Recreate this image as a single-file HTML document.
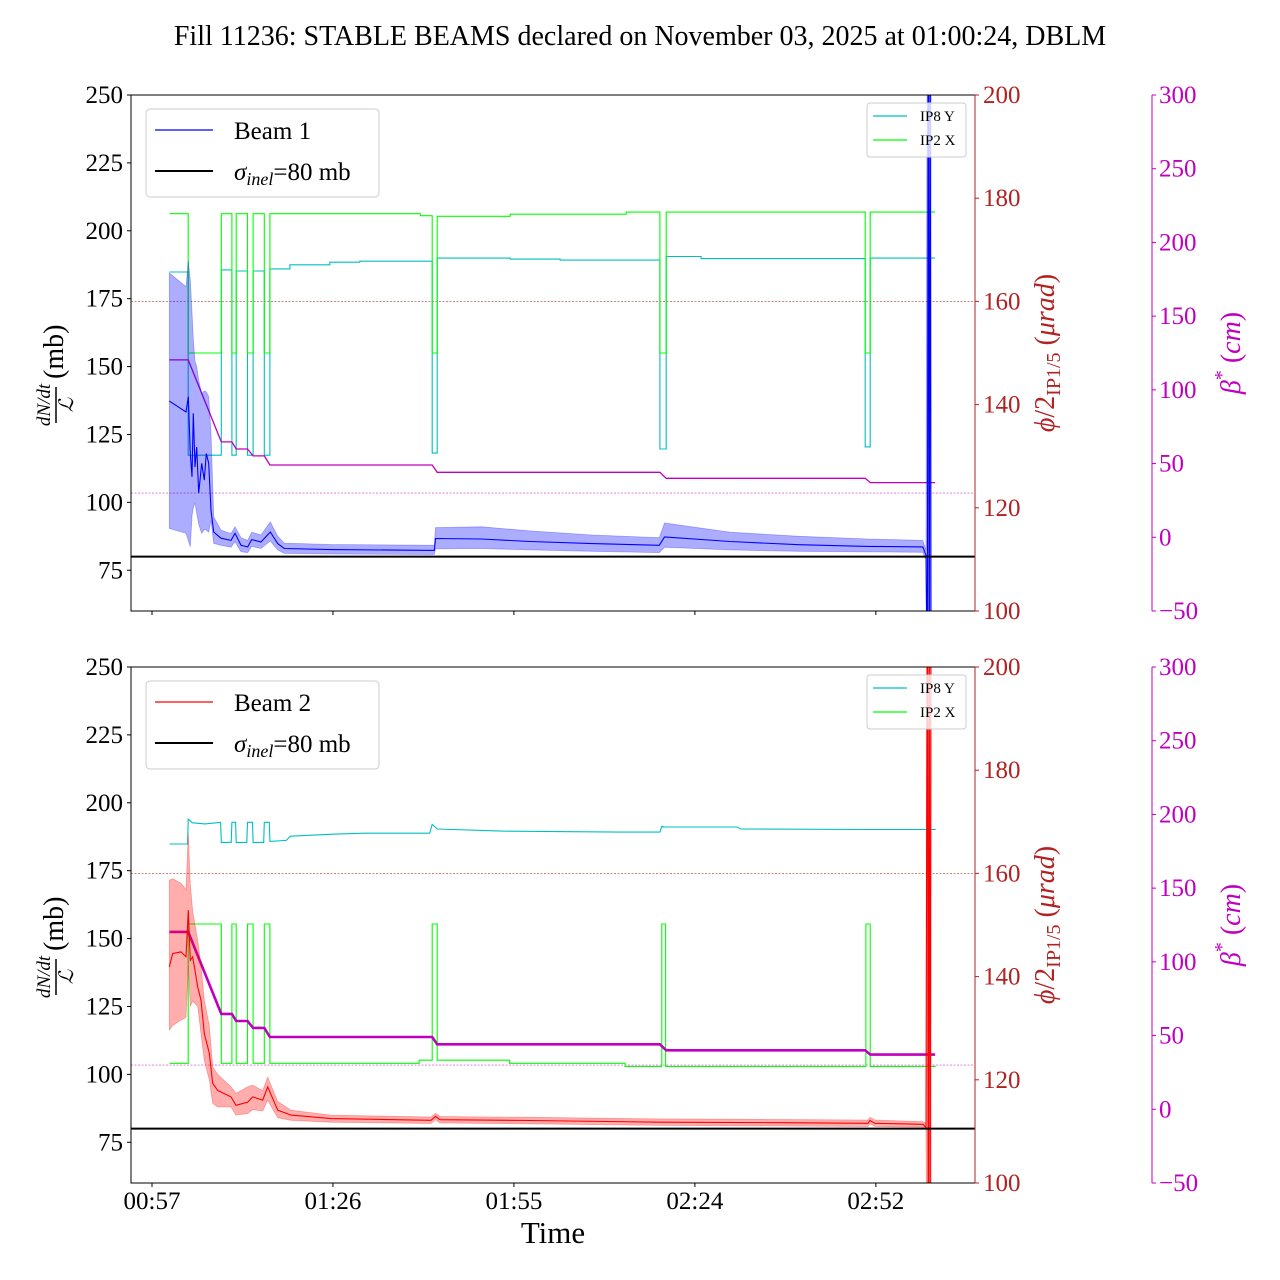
<!DOCTYPE html>
<html><head><meta charset="utf-8">
<style>
html,body{margin:0;padding:0;background:#fff;width:1280px;height:1280px;overflow:hidden;}
svg{display:block;font-family:"Liberation Serif","DejaVu Serif",serif;}
svg text{font-family:"Liberation Serif","DejaVu Serif",serif;}
</style></head>
<body>
<svg id="chart" width="1280" height="1280" viewBox="0 0 1280 1280" xmlns="http://www.w3.org/2000/svg">
<rect x="0" y="0" width="1280" height="1280" fill="#fff"/>
<text x="640" y="45" font-size="28" text-anchor="middle">Fill 11236: STABLE BEAMS declared on November 03, 2025 at 01:00:24, DBLM</text>
<defs>
<clipPath id="clipTop"><rect x="131" y="95" width="844" height="516"/></clipPath>
<clipPath id="clipBot"><rect x="131" y="667" width="844" height="516"/></clipPath>
</defs>
<g id="top"></g>
<g id="bot"></g>
<text x="553" y="1243" font-size="31" text-anchor="middle">Time</text>
</svg>
<script>
// ---- data (time in minutes after 00:57) ----
const xTickMin = [0, 29, 58, 87, 116];
const xTickLabels = ["00:57", "01:26", "01:55", "02:24", "02:52"];
const leftTicks = [75, 100, 125, 150, 175, 200, 225, 250];
const redTicks = [100, 120, 140, 160, 180, 200];
const magTicks = [-50, 0, 50, 100, 150, 200, 250, 300];

// Beam 1 loss (mb)
const b1T = [2.77,5.45,5.82,6.14,6.41,6.62,6.89,7.16,7.48,7.96,8.38,8.70,9.09,9.46,9.89,11.06,12.66,13.30,14.26,15.34,15.98,17.47,18.96,20.14,21.20,28.69,45.24,45.43,52.77,60.58,70.51,81.30,82.13,92.63,103.65,114.70,123.53,124.04,124.25,124.4,124.55,124.7,124.85];
const b1Mean = [137.3,133.3,138.9,118,109.4,132.8,113,120.4,103.4,114.4,108.2,118,114.4,97,89.1,86.8,86,88.6,84.2,83.6,86.3,85.4,89.1,84.8,83,82.6,82.3,86.7,86.5,85.6,84.8,84.2,87.3,85.6,84.4,83.8,83.6,80.6,30,300,10,300,20];
const b1Hi = [184.5,179.4,189,181.8,170,160,152,150,145,140,141,140.7,138.9,125.4,94.6,89.8,88.5,91,87,86,89,88,92.8,87.5,85,84.5,84.2,90.7,91,89.5,88,87,92.4,89,87.5,86.5,86,82.5,300,300,300,300,300];
const b1Lo = [90.4,88.6,86,83.6,95,98,100,96,92,88.6,90,89.8,89,93.4,84.9,84.2,83.5,85.5,81.8,81.5,83.8,83,85.8,82.5,81.2,81,80.8,82.9,83,82.5,82,81.5,83.5,82.5,82,81.8,81.6,79,0,0,0,0,0];

// Beam 2 loss (mb)
const b2T = [2.77,3.32,4.65,5.45,5.82,6.14,6.52,7.32,7.85,8.38,9.18,9.73,10.53,12.66,13.46,15.34,16.14,17.74,18.54,20.14,22.28,28.69,44.71,45.43,46.15,60.58,81.41,100.64,114.74,115.06,115.87,123.53,124.04,124.25,124.4,124.55,124.7,124.85];
const b2Mean = [139.6,144.5,145.1,143.3,160.5,142,143.3,132.2,127.3,115.1,107.8,96.7,94.1,91.7,88.6,89.8,91.7,90.5,95.4,86.8,85,83.7,83.1,84.5,83.3,83,82.4,82.2,82.0,83,82,81.6,80.5,300,20,300,10,300];
const b2Hi = [171.5,172,170.4,168,188.8,170,160,149.4,140,127.3,118,102.7,100,95.4,93,95.4,96,94,99,90,86.8,85,84.3,85.7,84.5,84.2,83.6,83.4,83.2,84.2,83.2,82.6,82,300,300,300,300,300];
const b2Lo = [116.3,118,120,121,140,125,127,125,115,105,98,89.3,88,88,85,85.6,87,86.5,90.5,84,83.1,82.4,81.9,83.3,82.1,81.8,81.2,81,80.8,81.8,80.8,80.6,79.5,0,0,0,0,0];

// Crossing angles (urad)
const ip8TopT = [2.8,5.8,11.1,12.8,13.5,15.3,16.2,18.0,18.9,22.1,28.5,33.3,44.9,45.7,57.4,65.4,81.4,82.4,88,114.3,115.1,125.5];
const ip8TopV = [165.7,130.2,166.1,130.2,165.9,130.2,165.9,130.2,166.3,167.1,167.6,167.8,130.6,168.4,168.2,168.0,131.4,168.7,168.3,131.8,168.4,168.4];
const ip2TopT = [2.8,5.8,11.1,12.8,13.5,15.3,16.2,18.0,18.9,43.0,44.9,45.7,57.4,76.0,81.4,82.4,114.3,115.1,125.5];
const ip2TopV = [177,150,177,150,177,150,177,150,177,176.6,150,176.5,176.9,177.3,150,177.3,150,177.3,177.3];
const ip8BotT = [2.8,5.7,5.8,6.5,8.5,11.0,11.1,12.7,12.8,13.4,13.5,15.2,15.3,16.1,16.2,17.9,18.0,18.8,18.9,21.5,22.2,29.0,34.0,44.5,44.9,45.7,56,75,81.4,81.7,82.1,93.8,94.3,114.3,125.6];
const ip8BotV = [165.7,165.7,170.5,169.8,169.6,169.9,166,166,169.9,169.9,166,166,169.9,169.9,166,166,169.9,169.9,166.2,166.4,167.2,167.6,167.8,167.8,169.5,168.6,168.2,168.0,168.0,169.1,169.0,169.0,168.6,168.5,168.5];
const ip2BotT = [2.8,5.8,11.1,12.8,13.5,15.3,16.2,18.0,18.9,42.8,44.9,45.7,57.3,75.8,81.7,82.3,114.4,115.1,125.6];
const ip2BotV = [123.2,150.2,123.2,150.2,123.2,150.2,123.2,150.2,123.2,123.8,150.2,123.8,123.2,122.6,150.2,122.6,150.2,122.6,122.6];

// beta* (cm)
const betaT = [2.8,5.8,11.1,12.8,13.5,15.3,16.2,18.0,18.9,44.9,45.7,81.4,82.4,114.3,115.1,125.5];
const betaV = [120.3,120.3,64.7,64.7,59.9,59.9,55.2,55.2,49,49,44.1,44.1,40,40,37.1,37.1];

const sigmaInel = 80;
const refAngle = 160;
const refBeta = 30;

// ---- scales ----
const X0 = 131, X1 = 975, H = 516;
function xS(t){ return 152 + t * 6.24; }
function yL(v, top){ return top + (250 - v) / 190 * H; }
function yR(v, top){ return top + (200 - v) / 100 * H; }
function yM(v, top){ return top + (300 - v) / 350 * H; }

const NS = "http://www.w3.org/2000/svg";
function mk(tag, attrs, parent){
  const e = document.createElementNS(NS, tag);
  for (const k in attrs) e.setAttribute(k, attrs[k]);
  parent.appendChild(e);
  return e;
}
function linePts(T, V, yf, top){
  return T.map((t,i)=>xS(t).toFixed(1)+","+yf(V[i],top).toFixed(1)).join(" ");
}
function stepPts(T, V, yf, top){
  const p = [];
  for (let i=0;i<T.length;i++){
    if (i>0) p.push(xS(T[i]).toFixed(1)+","+yf(V[i-1],top).toFixed(1));
    p.push(xS(T[i]).toFixed(1)+","+yf(V[i],top).toFixed(1));
  }
  return p.join(" ");
}
function bandPts(T, Hi, Lo, top){
  const a = T.map((t,i)=>xS(t).toFixed(1)+","+yL(Hi[i],top).toFixed(1));
  const b = T.map((t,i)=>xS(t).toFixed(1)+","+yL(Lo[i],top).toFixed(1)).reverse();
  return a.concat(b).join(" ");
}

function panel(g, top, clipId, beamName, bT, bM, bH, bL, col, bandCol, ip8T, ip8V, ip8Step, ip2T, ip2V, ip2Step, betaW, showX){
  const cg = mk("g", {"clip-path":"url(#"+clipId+")"}, g);
  
  
  const r1 = mk("line", {x1:X0,x2:X1,y1:yR(refAngle,top),y2:yR(refAngle,top),stroke:"#a33",'stroke-width':0.8,'stroke-dasharray':"2,1.5",opacity:0.8}, cg);
  
  
  const r2 = mk("line", {x1:X0,x2:X1,y1:yM(refBeta,top),y2:yM(refBeta,top),stroke:"#d050d0",'stroke-width':0.8,'stroke-dasharray':"2,1.5",opacity:0.8}, cg);
  
  
  const c = mk("polyline", {points: ip8Step ? stepPts(ip8T, ip8V, yR, top) : linePts(ip8T, ip8V, yR, top), fill:"none", stroke:"#00bfbf", 'stroke-width':1.1}, cg);
  
  
  const gr = mk("polyline", {points: ip2Step ? stepPts(ip2T, ip2V, yR, top) : linePts(ip2T, ip2V, yR, top), fill:"none", stroke:"#00ff00", 'stroke-width':1.1}, cg);
  
  
  const m = mk("polyline", {points: linePts(betaT, betaV, yM, top), fill:"none", stroke:"#bf00bf", 'stroke-width':betaW}, cg);
  
  
  const band = mk("polygon", {points: bandPts(bT, bH, bL, top), fill:bandCol, 'fill-opacity':0.32, stroke:bandCol, 'stroke-opacity':0.3, 'stroke-width':0.8}, cg);
  
  
  const ml = mk("polyline", {points: linePts(bT, bM, yL, top), fill:"none", stroke:col, 'stroke-width':1.1}, cg);
  
  
  const sl = mk("line", {x1:X0,x2:X1,y1:yL(sigmaInel,top),y2:yL(sigmaInel,top),stroke:"#000",'stroke-width':2}, cg);
  
  

  const fr = mk("rect", {x:X0,y:top,width:X1-X0,height:H,fill:"none",stroke:"#000",'stroke-width':1}, g);
  
  
  const rs = mk("line", {x1:X1,x2:X1,y1:top,y2:top+H,stroke:"#b22222",'stroke-width':1}, g);
  
  
  leftTicks.forEach(v=>{
    const y = yL(v, top);
    mk("line",{x1:X0-4,x2:X0,y1:y,y2:y,stroke:"#000"}, g);
    const t = mk("text",{x:X0-8,y:y+8,'font-size':25,'text-anchor':"end"}, g);
    t.textContent = v;
    
    
  });
  redTicks.forEach(v=>{
    const y = yR(v, top);
    mk("line",{x1:X1,x2:X1+4,y1:y,y2:y,stroke:"#b22222"}, g);
    const t = mk("text",{x:X1+8,y:y+8,'font-size':25,fill:"#b22222"}, g);
    t.textContent = v;
    
    
  });
  const ms = mk("line",{x1:1152,x2:1152,y1:top,y2:top+H,stroke:"#bf00bf",'stroke-width':1}, g);
  
  
  magTicks.forEach(v=>{
    const y = yM(v, top);
    mk("line",{x1:1152,x2:1156,y1:y,y2:y,stroke:"#bf00bf"}, g);
    const t = mk("text",{x:1159,y:y+8,'font-size':25,fill:"#bf00bf"}, g);
    t.textContent = v < 0 ? "\u2212" + Math.abs(v) : v;
    
    
  });
  xTickMin.forEach((m,i)=>{
    const x = xS(m);
    mk("line",{x1:x,x2:x,y1:top+H,y2:top+H+4,stroke:"#000"}, g);
    if (showX){
      const t = mk("text",{x:x,y:top+H+26,'font-size':25,'text-anchor':"middle"}, g);
      t.textContent = xTickLabels[i];
      
      
    }
  });
  const cy = top + 258;
  const yl = mk("g",{transform:"translate(56,"+cy+") rotate(-90)"}, g);
  
  
  const f1 = mk("text",{x:-52,y:-6,'font-size':19,'font-style':"italic",'text-anchor':"middle"}, yl); f1.textContent = "dN/dt";
  mk("line",{x1:-70,x2:-34,y1:0,y2:0,stroke:"#000",'stroke-width':1.5}, yl);
  const f2 = mk("text",{x:-52,y:17,'font-size':20,'font-style':"italic",'text-anchor':"middle"}, yl); f2.textContent = "\u2112";
  const f3 = mk("text",{x:-26,y:7,'font-size':28}, yl); f3.textContent = "(mb)";
  const rl = mk("text",{transform:"translate(1054,"+(top+258)+") rotate(-90)",'font-size':28,fill:"#b22222",'text-anchor':"middle"}, g);
  
  
  rl.innerHTML = '<tspan font-style="italic">\u03d5</tspan>/2<tspan font-size="20" dy="6">IP1/5</tspan><tspan dy="-6"> (</tspan><tspan font-style="italic">\u03bcrad</tspan>)';
  const bl = mk("text",{transform:"translate(1240,"+(top+258)+") rotate(-90)",'font-size':28,fill:"#bf00bf",'text-anchor':"middle"}, g);
  
  
  bl.innerHTML = '<tspan font-style="italic">\u03b2</tspan><tspan font-size="20" dy="-12">*</tspan><tspan dy="12"> (</tspan><tspan font-style="italic">cm</tspan>)';
  const lg = mk("g",{}, g);
  
  
  mk("rect",{x:146,y:top+14,width:233,height:88,rx:4,fill:"#fff",'fill-opacity':0.8,stroke:"#ccc"}, lg);
  mk("line",{x1:155,x2:213,y1:top+35,y2:top+35,stroke:col,'stroke-width':1.2}, lg);
  const lt1 = mk("text",{x:234,y:top+44,'font-size':25}, lg); lt1.textContent = beamName === "beam-1" ? "Beam 1" : "Beam 2";
  
  
  mk("line",{x1:155,x2:213,y1:top+76,y2:top+76,stroke:"#000",'stroke-width':2}, lg);
  const lt2 = mk("text",{x:234,y:top+85,'font-size':25}, lg);
  lt2.innerHTML = '<tspan font-style="italic">\u03c3</tspan><tspan font-style="italic" font-size="18" dy="5">inel</tspan><tspan dy="-5">=80 mb</tspan>';
  
  
  const sg = mk("g",{}, g);
  
  
  mk("rect",{x:867,y:top+8,width:99,height:54,rx:3,fill:"#fff",'fill-opacity':0.8,stroke:"#ccc"}, sg);
  mk("line",{x1:873,x2:907,y1:top+21,y2:top+21,stroke:"#00bfbf",'stroke-width':1.2}, sg);
  const s1 = mk("text",{x:920,y:top+26,'font-size':15}, sg); s1.textContent = "IP8 Y";
  
  
  mk("line",{x1:873,x2:907,y1:top+45,y2:top+45,stroke:"#00ff00",'stroke-width':1.2}, sg);
  const s2 = mk("text",{x:920,y:top+50,'font-size':15}, sg); s2.textContent = "IP2 X";
  
  
}

const gTop = document.getElementById("top");


const gBot = document.getElementById("bot");


panel(gTop, 95, "clipTop", "beam-1", b1T, b1Mean, b1Hi, b1Lo, "#0000ff", "#0000ff", ip8TopT, ip8TopV, true, ip2TopT, ip2TopV, true, 1.3, false);
panel(gBot, 667, "clipBot", "beam-2", b2T, b2Mean, b2Hi, b2Lo, "#ff0000", "#ff0000", ip8BotT, ip8BotV, false, ip2BotT, ip2BotV, true, 2.6, true);
</script>
</body></html>
